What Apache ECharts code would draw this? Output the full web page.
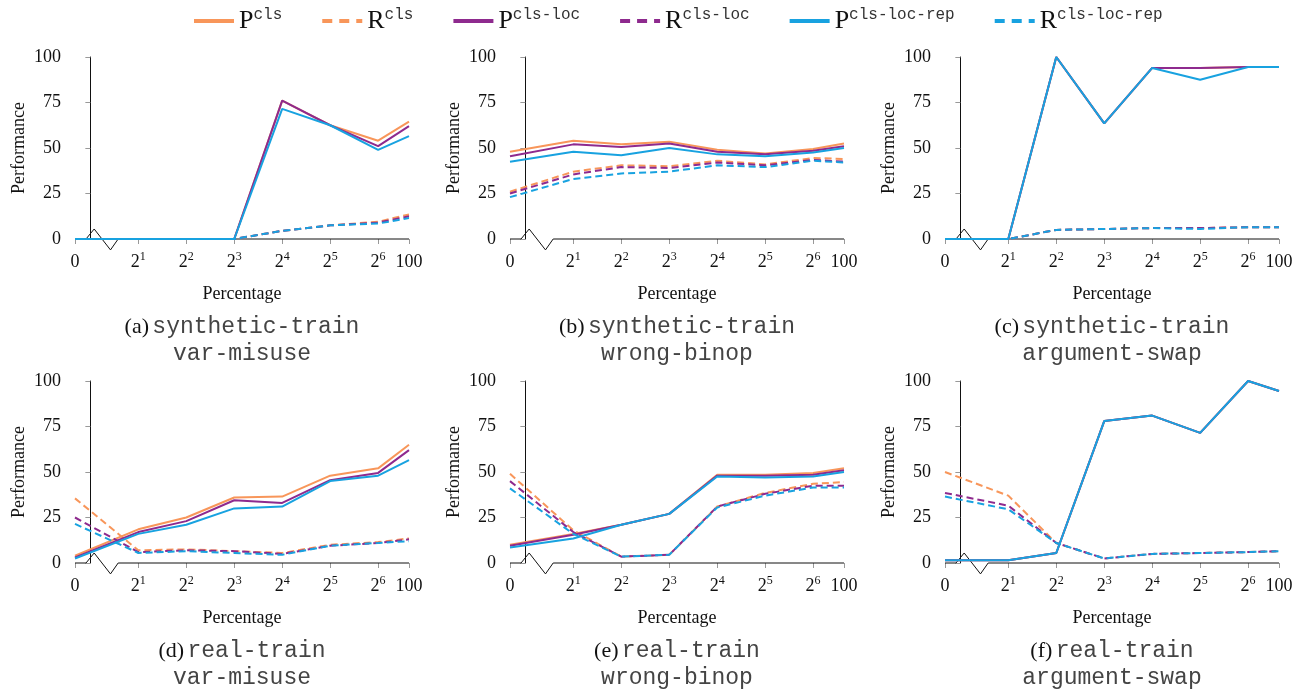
<!DOCTYPE html>
<html>
<head>
<meta charset="utf-8">
<script src="https://cdn.jsdelivr.net/npm/echarts@6/dist/echarts.min.js"></script>
<style>
  html, body { margin: 0; background: #fff; }
  #main { width: 1304px; height: 691px; }
</style>
</head>
<body>
<div id="main"></div>
<script>
// training-set percentages (x) and their tick labels
const percentages = [0, 2, 4, 8, 16, 32, 64, 100];
const tickLabels = ['0', '2^1', '2^2', '2^3', '2^4', '2^5', '2^6', '100'];
const seriesNames = ['Pcls', 'Rcls', 'Pcls-loc', 'Rcls-loc', 'Pcls-loc-rep', 'Rcls-loc-rep'];

// (a) synthetic-train var-misuse
const aPcls = [0, 0, 0, 0, 76, 62.5, 54, 64.5];
const aRcls = [0, 0, 0, 0, 4.5, 7.5, 9.5, 13.5];
const aPloc = [0, 0, 0, 0, 76, 62.5, 51, 62];
const aRloc = [0, 0, 0, 0, 4.5, 7.5, 9, 12.5];
const aPrep = [0, 0, 0, 0, 71.5, 62.5, 49, 56.5];
const aRrep = [0, 0, 0, 0, 4.5, 7.5, 8.5, 11.5];

// (b) synthetic-train wrong-binop
const bPcls = [48, 54, 52, 53.5, 49, 47, 49.5, 52.5];
const bRcls = [26, 37, 40.5, 40, 43, 41, 44.5, 44];
const bPloc = [45.5, 52, 50.5, 52.5, 48, 46.5, 48.5, 51];
const bRloc = [25, 35.5, 39.5, 39, 42, 40.5, 43.5, 42.5];
const bPrep = [42.5, 48, 46, 50, 46.5, 45.5, 47.5, 50];
const bRrep = [23, 33, 36, 37, 40.5, 39.5, 43, 42];

// (c) synthetic-train argument-swap
const cPcls = [0, 0, 100, 63.5, 94, 94, 94.5, 94.5];
const cRcls = [0, 0, 5, 5.5, 6, 6, 6.5, 6.5];
const cPloc = [0, 0, 100, 63.5, 94, 94, 94.5, 94.5];
const cRloc = [0, 0, 5, 5.5, 6, 6, 6.5, 6.5];
const cPrep = [0, 0, 100, 63.5, 94, 87.5, 94.5, 94.5];
const cRrep = [0, 0, 5, 5.5, 6, 5.5, 6.5, 6.5];

// (d) real-train var-misuse
const dPcls = [4, 18.5, 25, 36, 36.5, 48, 52, 65];
const dRcls = [35.5, 7, 7.5, 6.5, 5.5, 10, 11.5, 13.5];
const dPloc = [3, 17, 23, 34.5, 33, 45.5, 49.5, 62];
const dRloc = [25, 6, 7, 6.5, 5, 9.5, 11, 13];
const dPrep = [2.5, 16, 21, 30, 31, 45, 48, 56.5];
const dRrep = [21.5, 5.5, 6.5, 5.5, 4.5, 9.5, 11, 12];

// (e) real-train wrong-binop
const ePcls = [10, 16, 21, 27, 48.5, 48.5, 49.5, 52];
const eRcls = [49, 18, 3.5, 4.5, 31, 38.5, 43.5, 44.5];
const ePloc = [9.5, 15.5, 21, 27, 48, 48, 48.5, 51];
const eRloc = [45, 17, 3.5, 4.5, 31, 38, 42.5, 42.5];
const ePrep = [8.5, 13.5, 21, 27, 47.5, 47, 47.5, 50];
const eRrep = [41, 16, 3.5, 4.5, 30.5, 37, 41.5, 41.5];

// (f) real-train argument-swap
const fPcls = [1.5, 1.5, 5.5, 78, 81, 71.5, 100, 94.5];
const fRcls = [50, 37, 11, 2.5, 5, 5.5, 6, 6.5];
const fPloc = [1.5, 1.5, 5.5, 78, 81, 71.5, 100, 94.5];
const fRloc = [38.5, 31.5, 11, 2.5, 5, 5.5, 6, 6.5];
const fPrep = [1.5, 1.5, 5.5, 78, 81, 71.5, 100, 94.5];
const fRrep = [36.5, 29.5, 11, 2.5, 5, 5.5, 6, 6.5];

const panelData = [
  [aPcls, aRcls, aPloc, aRloc, aPrep, aRrep],
  [bPcls, bRcls, bPloc, bRloc, bPrep, bRrep],
  [cPcls, cRcls, cPloc, cRloc, cPrep, cRrep],
  [dPcls, dRcls, dPloc, dRloc, dPrep, dRrep],
  [ePcls, eRcls, ePloc, eRloc, ePrep, eRrep],
  [fPcls, fRcls, fPloc, fRloc, fPrep, fRrep],
];
const captionLetters = ['(a)', '(b)', '(c)', '(d)', '(e)', '(f)'];
const captionTrain = ['synthetic-train', 'synthetic-train', 'synthetic-train', 'real-train', 'real-train', 'real-train'];
const captionTask = ['var-misuse', 'wrong-binop', 'argument-swap', 'var-misuse', 'wrong-binop', 'argument-swap'];

// broken-axis zigzag near the origin (x in log2 units, y in performance units)
const breakX = [-0.32, -0.09, 0.08, 0.42, 0.58, Math.log2(100)];
const breakY = [0, 0, 5.5, -6, 0, 0];

const ZERO_POS = -0.32; // where 0% sits on the log2 axis
const xPos = percentages.map((p) => (p === 0 ? ZERO_POS : Math.log2(p)));

const colors = ['#f8965a', '#f8965a', '#8e2a8e', '#8e2a8e', '#18a2e0', '#18a2e0'];
const DASH = [7, 4];

const serif = 'Liberation Serif';
const mono = 'Liberation Mono';

const colLeft = [75, 510, 945];
const rowTop = [57, 381];
const gridW = 334;
const gridH = 182;

const chart = echarts.init(document.getElementById('main'));

const grids = [];
const xAxes = [];
const yAxes = [];
const series = [];
const graphics = [];

const labelFor = (v) => {
  const i = xPos.findIndex((x) => Math.abs(x - v) < 1e-6);
  const t = tickLabels[i] || '';
  if (t.includes('^')) {
    const [base, exp] = t.split('^');
    return `{b|${base}}{s|${exp}}`;
  }
  return `{b|${t}}`;
};

panelData.forEach((lines, idx) => {
  const col = idx % 3;
  const row = Math.floor(idx / 3);
  const left = colLeft[col];
  const top = rowTop[row];

  grids.push({ left, top, width: gridW, height: gridH });

  xAxes.push({
    gridIndex: idx,
    type: 'value',
    min: ZERO_POS,
    max: Math.log2(100),
    name: 'Percentage',
    nameLocation: 'middle',
    nameGap: 46,
    nameTextStyle: { fontFamily: serif, fontSize: 18, color: '#111' },
    axisLine: { show: false },
    axisTick: {
      show: true,
      customValues: xPos,
      length: 5,
      lineStyle: { color: '#999' },
    },
    axisLabel: {
      customValues: xPos,
      margin: 12,
      formatter: labelFor,
      rich: {
        b: { fontFamily: serif, fontSize: 18, color: '#111', lineHeight: 22 },
        s: { fontFamily: serif, fontSize: 12, color: '#111', lineHeight: 12, verticalAlign: 'top', padding: [0, 0, 4, 0] },
      },
    },
    splitLine: { show: false },
  });

  yAxes.push({
    gridIndex: idx,
    type: 'value',
    min: 0,
    max: 100,
    interval: 25,
    name: 'Performance',
    nameLocation: 'middle',
    nameGap: 47,
    nameTextStyle: { fontFamily: serif, fontSize: 18, color: '#111' },
    axisLine: { show: true, lineStyle: { color: '#111', width: 1 } },
    axisTick: { show: true, length: 5, lineStyle: { color: '#999' } },
    axisLabel: { fontFamily: serif, fontSize: 18, color: '#111', margin: 14 },
    splitLine: { show: false },
  });

  series.push({
    type: 'line',
    xAxisIndex: idx,
    yAxisIndex: idx,
    data: breakX.map((x, i) => [x, breakY[i]]),
    symbol: 'none',
    silent: true,
    clip: false,
    lineStyle: { color: '#111', width: 1 },
    z: 1,
  });

  lines.forEach((vals, s) => {
    series.push({
      name: seriesNames[s],
      type: 'line',
      xAxisIndex: idx,
      yAxisIndex: idx,
      data: vals.map((v, i) => [xPos[i], v]),
      symbol: 'none',
      showSymbol: false,
      clip: false,
      color: colors[s],
      lineStyle: { color: colors[s], width: 2, type: s % 2 ? DASH : 'solid' },
      z: 2 + s,
    });
  });

  const cx = left + gridW / 2;
  const cy = top + 270;
  graphics.push({
    type: 'text',
    x: cx,
    y: cy,
    style: {
      text: `{l|${captionLetters[idx]}} {m|${captionTrain[idx]}}`,
      align: 'center',
      verticalAlign: 'middle',
      rich: {
        l: { fontFamily: serif, fontSize: 22, fill: '#111' },
        m: { fontFamily: mono, fontSize: 23, fill: '#444' },
      },
    },
  });
  graphics.push({
    type: 'text',
    x: cx,
    y: cy + 27,
    style: {
      text: captionTask[idx],
      align: 'center',
      verticalAlign: 'middle',
      font: `23px "${mono}"`,
      fill: '#444',
    },
  });
});

chart.setOption({
  animation: false,
  backgroundColor: '#fff',
  legend: {
    left: 187,
    top: 2,
    itemWidth: 40,
    itemHeight: 14,
    itemGap: 38,
    itemStyle: { color: 'transparent', borderWidth: 0, opacity: 0 },
    data: seriesNames.map((n, i) => ({
      name: n,
      lineStyle: { width: 4, type: i % 2 ? [10, 7] : 'solid' },
    })),
    formatter: (name) => `{p|${name[0]}}{s|${name.slice(1)}}`,
    textStyle: {
      rich: {
        p: { fontFamily: serif, fontSize: 26, color: '#111', lineHeight: 28 },
        s: { fontFamily: mono, fontSize: 16, color: '#333', lineHeight: 16, verticalAlign: 'top' },
      },
    },
  },
  grid: grids,
  xAxis: xAxes,
  yAxis: yAxes,
  series,
  graphic: graphics,
});
</script>
</body>
</html>
